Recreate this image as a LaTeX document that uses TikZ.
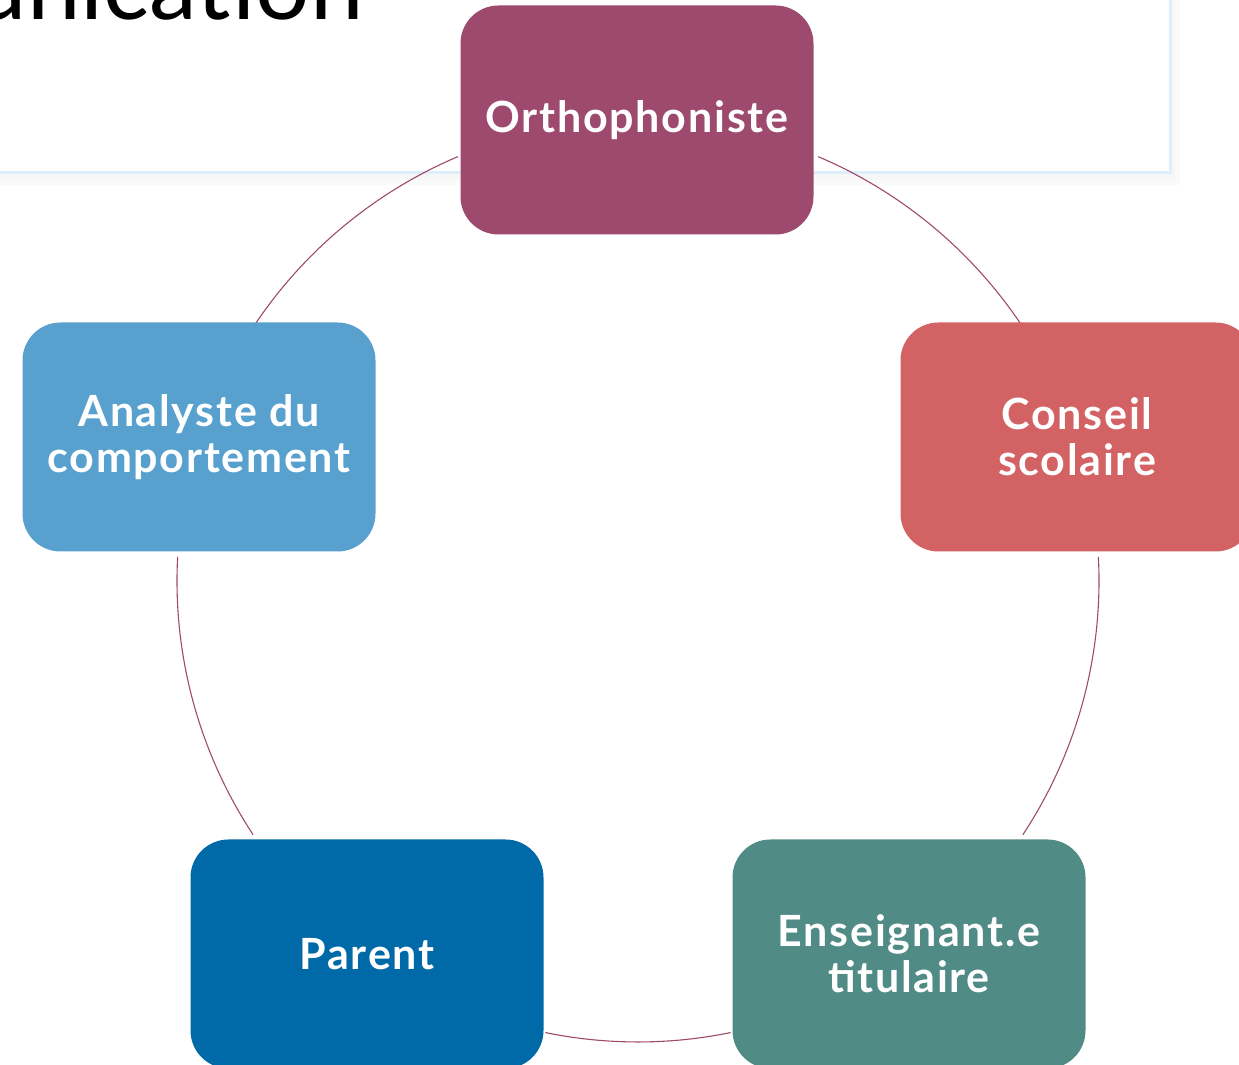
\documentclass[tikz,border=0pt]{standalone}
\usepackage{fontspec}
\setmainfont{Lato}
\newfontfamily\cardfont[LetterSpace=4]{Lato}
\begin{document}
\begin{tikzpicture}[x=1pt,y=1pt,
  card/.style={rectangle, rounded corners=38pt, minimum width=353pt, minimum height=229pt,
     inner sep=0pt, text=white, align=center,
     font=\cardfont\fontsize{43}{46}\selectfont\bfseries},
  ring/.style={draw=ringc, line width=1.1pt}]
\definecolor{ringc}{HTML}{9E4A6E}
\definecolor{cOrtho}{HTML}{9E4A6E}
\definecolor{cAnal}{HTML}{58A1CF}
\definecolor{cCons}{HTML}{D36264}
\definecolor{cPar}{HTML}{0069A7}
\definecolor{cEns}{HTML}{518B86}
\definecolor{panelb}{HTML}{DDEFFA}
\useasboundingbox (0,0) rectangle (1239,1065);
% panel with faint shadow
\fill[black!2] (-20,880) rectangle (1180,1100);
\fill[black!3] (-20,885) rectangle (1175,1100);
\filldraw[fill=white, draw=panelb, line width=3pt] (-20,892) rectangle (1170,1100);
% title fragment
\node[anchor=base east, inner sep=0pt, font=\fontsize{96}{96}\selectfont] (title) at (364,1045) {unication};
% ring
\coordinate (c) at (638,484);
\draw[ring] ([shift={(67:461)}]c) arc[start angle=67, end angle=34, radius=461];
\draw[ring] ([shift={(3:461)}]c) arc[start angle=3, end angle=-33.4, radius=461];
\draw[ring] ([shift={(-78.4:461)}]c) arc[start angle=-78.4, end angle=-101.6, radius=461];
\draw[ring] ([shift={(213.4:461)}]c) arc[start angle=213.4, end angle=177, radius=461];
\draw[ring] ([shift={(146:461)}]c) arc[start angle=146, end angle=113, radius=461];
% cards
\node[card, fill=cOrtho] (ortho) at (637,945) {Orthophoniste};
\node[card, fill=cCons] (cons) at (1077,628) {Conseil\\scolaire};
\node[card, fill=cEns] (ens) at (909,111) {Enseignant.e\\titulaire};
\node[card, fill=cPar] (par) at (367,111) {Parent};
\node[card, fill=cAnal] (anal) at (199,628) {Analyste du\\comportement};
\end{tikzpicture}
\end{document}
